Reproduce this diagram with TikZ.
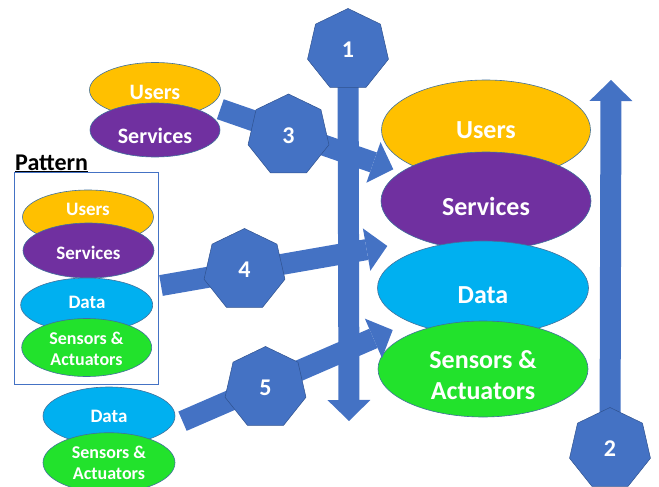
\documentclass[tikz,border=0pt]{standalone}
\usepackage{fontspec}
\setmainfont{Carlito}
\usetikzlibrary{shapes.geometric,arrows.meta}
\definecolor{blk}{HTML}{4472C4}
\definecolor{blkline}{HTML}{2F528F}
\definecolor{ellline}{HTML}{41719C}
\definecolor{cUsers}{HTML}{FFC000}
\definecolor{cServ}{HTML}{7030A0}
\definecolor{cData}{HTML}{00B0F0}
\definecolor{cSens}{HTML}{22E22C}
\begin{document}
\begin{tikzpicture}[x=1pt,y=-1pt,
  ell/.style={ellipse, draw=ellline, line width=0.6pt, inner sep=0pt, outer sep=0pt},
  lbig/.style={text=white, align=center, inner sep=0pt, font=\bfseries\fontsize{26}{31}\selectfont},
  lmid/.style={text=white, align=center, inner sep=0pt, font=\bfseries\fontsize{22}{26}\selectfont},
  lsml/.style={text=white, align=center, inner sep=0pt, font=\bfseries\fontsize{19}{21}\selectfont},
  lsens/.style={text=white, align=center, inner sep=0pt, font=\bfseries\fontsize{18}{20.8}\selectfont},
  hept/.style={regular polygon, regular polygon sides=7, minimum size=83pt, fill=blk, draw=blkline,
    line width=0.5pt, inner sep=0pt, outer sep=0pt, text=white, font=\bfseries\fontsize{24}{24}\selectfont},
  barrow/.style={draw=blk, line width=21pt, -{Triangle[length=21pt,width=43pt,line width=0pt]}}
]
\useasboundingbox (0,0) rectangle (659,487);

% Pattern box
\node[anchor=base west, inner sep=0pt, font=\bfseries\fontsize{24}{24}\selectfont] (pat) at (15,170) {\underline{Pattern}};
\draw[draw=blk, line width=0.7pt] (14.7,172.7) rectangle (158,384);

% Pattern ellipses
\node[ell, fill=cUsers, minimum width=131pt, minimum height=54pt] (PU) at (88,217) {};
\node[lsml] (PUt) at (88,209) {Users};
\node[ell, fill=cServ, minimum width=131pt, minimum height=55pt] (PS) at (88.5,250.5) {};
\node[lsml] (PSt) at (88.5,252.7) {Services};
\node[ell, fill=cData, minimum width=132pt, minimum height=54pt] (PD) at (86.7,305) {};
\node[lsml] (PDt) at (87,302.7) {Data};
\node[ell, fill=cSens, minimum width=130pt, minimum height=58pt] (PA) at (86.7,347.5) {};
\node[lsens] (PAt) at (86.5,348.8) {Sensors \&\\Actuators};

% Top-left ellipses
\node[ell, fill=cUsers, minimum width=131pt, minimum height=55pt] (TU) at (155,90) {};
\node[lmid] (TUt) at (155,92) {Users};
\node[ell, fill=cServ, minimum width=130pt, minimum height=54pt] (TS) at (155,130) {};
\node[lmid] (TSt) at (155,136) {Services};

% Bottom-left ellipses
\node[ell, fill=cData, minimum width=132pt, minimum height=58pt] (BD) at (109,416) {};
\node[lsml] (BDt) at (109,416.7) {Data};
\node[ell, fill=cSens, minimum width=132pt, minimum height=60pt] (BA) at (109,462.7) {};
\node[lsens] (BAt) at (109,463) {Sensors \&\\Actuators};

% Right ellipses
\node[ell, fill=cUsers, minimum width=209pt, minimum height=100pt] (RU) at (486,130) {};
\node[lbig] (RUt) at (486,130) {Users};
\node[ell, fill=cServ, minimum width=210pt, minimum height=98pt] (RS) at (486,201) {};
\node[lbig] (RSt) at (486,206) {Services};
\node[ell, fill=cData, minimum width=211pt, minimum height=94pt] (RD) at (483,288) {};
\node[lbig] (RDt) at (483,295) {Data};
\node[ell, fill=cSens, minimum width=210pt, minimum height=96pt] (RA) at (483,369) {};
\node[lbig] (RAt) at (483,374.7) {Sensors \&\\Actuators};

% arrow coordinates
\coordinate (c1) at (348,50);
\coordinate (t1) at (349,421);
\coordinate (c2) at (610,449);
\coordinate (t2) at (611,80);
\coordinate (s3) at (220.3,109.2);
\coordinate (t3) at (393.3,169.3);
\coordinate (s4) at (161,285.5);
\coordinate (t4) at (387.3,246);
\coordinate (s5) at (182.5,421.2);
\coordinate (t5) at (392.7,330);

% block arrows
\draw[barrow] (c1) -- (t1);
\draw[barrow] (c2) -- (t2);
\draw[barrow] (s3) -- (t3);
\draw[barrow] (s4) -- (t4);
\draw[barrow] (s5) -- (t5);

% heptagons
\node[hept] (h1) at (c1) {1};
\node[hept] (h2) at (c2) {2};
\node[hept] (h3) at (288.5,135.5) {3};
\node[hept] (h4) at (244.5,270) {4};
\node[hept] (h5) at (265.5,388) {5};
\end{tikzpicture}
\end{document}
